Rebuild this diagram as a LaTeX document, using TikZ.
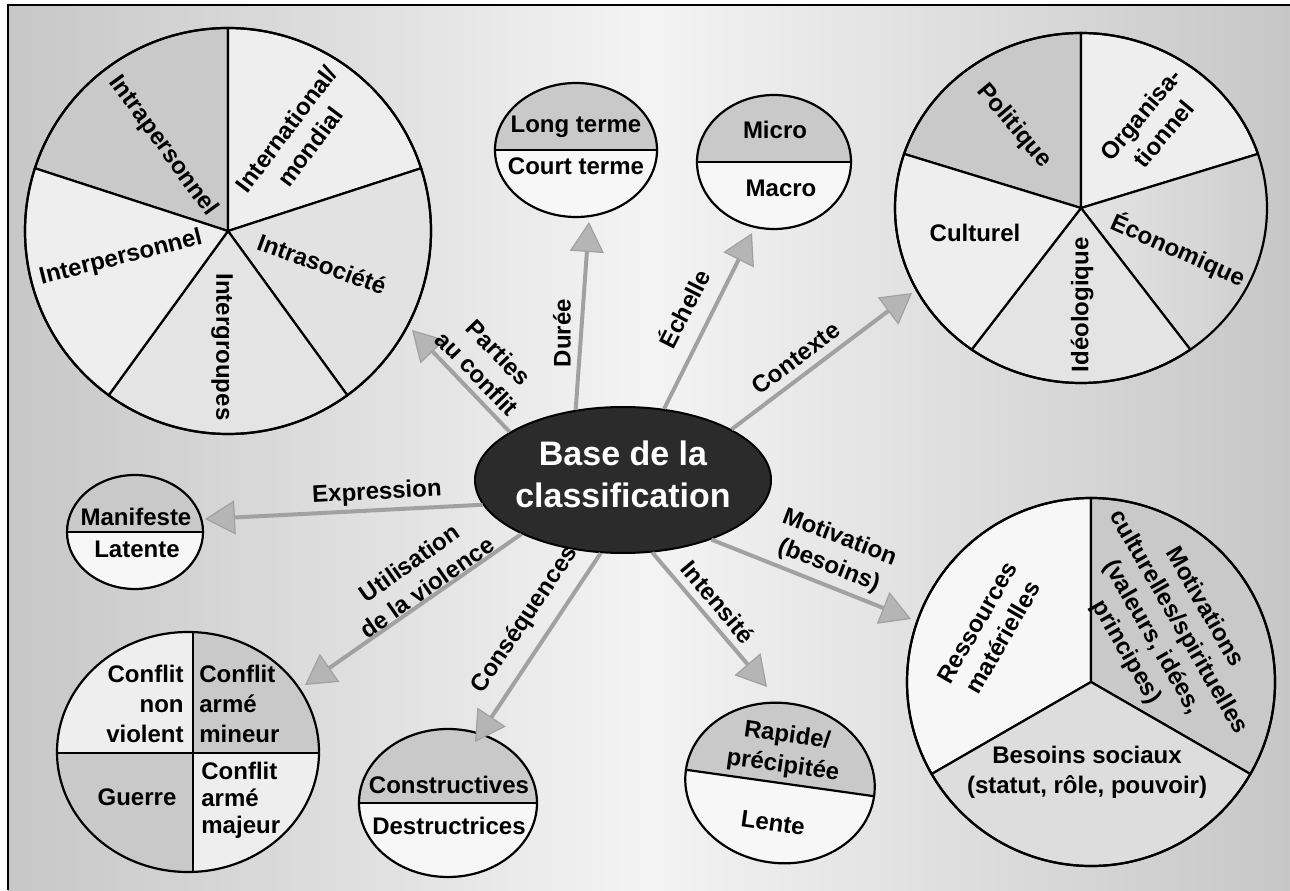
\documentclass[tikz,border=0pt]{standalone}
\usepackage{fontspec}
\setmainfont{Liberation Sans}
\usetikzlibrary{arrows.meta,shapes.geometric}

\definecolor{bgSide}{gray}{0.78}
\definecolor{bgMid}{gray}{0.955}
\definecolor{shadeDark}{gray}{0.79}
\definecolor{shadeMid}{gray}{0.895}
\definecolor{shadeLight}{gray}{0.935}
\definecolor{shadePale}{gray}{0.97}
\definecolor{linkGray}{gray}{0.63}
\definecolor{tipGray}{gray}{0.71}
\definecolor{coreGray}{gray}{0.17}

\tikzset{
  lbl/.style={font=\bfseries\fontsize{12}{15}\selectfont, inner sep=0pt, align=center},
  tight/.style={font=\bfseries\fontsize{12}{13.5}\selectfont},
  link/.style={draw=linkGray, line width=2pt,
    -{Triangle[length=15pt,width=17pt,fill=tipGray,line width=0.6pt]}},
  rim/.style={line width=1.1pt},
}

\begin{document}
\begin{tikzpicture}[x=0.5pt,y=0.5pt]
  \useasboundingbox (0,0) rectangle (1290,890);
  % background panel
  \shade[left color=bgSide, right color=bgSide, middle color=bgMid] (8,0) rectangle (1290,885);
  \draw[line width=0.9pt] (8,0) -- (8,885) -- (1290,885);

  % parties au conflit
  \begin{scope}[shift={(228,659)}]
    \filldraw[rim, fill=shadeDark] (0,0) -- (90:203) arc[start angle=90, end angle=162, radius=203] -- cycle;
    \filldraw[rim, fill=shadeLight] (0,0) -- (18:203) arc[start angle=18, end angle=90, radius=203] -- cycle;
    \filldraw[rim, fill=shadeLight!95!black] (0,0) -- (-54:203) arc[start angle=-54, end angle=18, radius=203] -- cycle;
    \filldraw[rim, fill=shadeMid] (0,0) -- (-126:203) arc[start angle=-126, end angle=-54, radius=203] -- cycle;
    \filldraw[rim, fill=shadeLight] (0,0) -- (162:203) arc[start angle=162, end angle=234, radius=203] -- cycle;
    \draw[rim] (0,0) circle[radius=203];
  \end{scope}
  \node[lbl, rotate=-54] (intra) at (163,744) {Intrapersonnel};
  \node[lbl, rotate=53] (inter) at (298,752) {International/\\mondial};
  \node[lbl, rotate=-20] (soc) at (322,626) {Intrasociété};
  \node[lbl, rotate=-90] (grp) at (222,543) {Intergroupes};
  \node[lbl, rotate=14] (pers) at (121,632) {Interpersonnel};

  % contexte
  \begin{scope}[shift={(1081,682)}]
    \filldraw[rim, fill=shadeDark] (0,0) -- (90:186 and 175) arc[start angle=90, end angle=162, x radius=186, y radius=175] -- cycle;
    \filldraw[rim, fill=shadeLight] (0,0) -- (18:186 and 175) arc[start angle=18, end angle=90, x radius=186, y radius=175] -- cycle;
    \shade[left color=shadeMid, right color=shadeDark!95!white] (0,0) -- (-54:186 and 175) arc[start angle=-54, end angle=18, x radius=186, y radius=175] -- cycle;
    \draw[rim] (0,0) -- (-54:186 and 175) (0,0) -- (18:186 and 175);
    \filldraw[rim, fill=shadeMid] (0,0) -- (-126:186 and 175) arc[start angle=-126, end angle=-54, x radius=186, y radius=175] -- cycle;
    \filldraw[rim, fill=shadeLight] (0,0) -- (162:186 and 175) arc[start angle=162, end angle=234, x radius=186, y radius=175] -- cycle;
    \draw[rim] (0,0) ellipse[x radius=186, y radius=175];
  \end{scope}
  \node[lbl, rotate=-50] (pol) at (1014,764) {Politique};
  \node[lbl, rotate=50] (org) at (1152,766) {Organisa-\\tionnel};
  \node[lbl, rotate=-24] (eco) at (1178,640) {Économique};
  \node[lbl, rotate=90] (ideo) at (1082,585) {Idéologique};
  \node[lbl] (cult) at (975,657) {Culturel};

  % motivation
  \begin{scope}[shift={(1091,208)}]
    \filldraw[rim, fill=shadePale] (0,0) -- (90:184) arc[start angle=90, end angle=210, radius=184] -- cycle;
    \filldraw[rim, fill=shadeDark] (0,0) -- (-30:184) arc[start angle=-30, end angle=90, radius=184] -- cycle;
    \filldraw[rim, fill=shadeMid!97!black] (0,0) -- (210:184) arc[start angle=210, end angle=330, radius=184] -- cycle;
    \draw[rim] (0,0) circle[radius=184];
  \end{scope}
  \node[lbl, rotate=60] (res) at (990,260) {Ressources\\matérielles};
  \node[lbl, rotate=-60] (cul) at (1165,260) {Motivations\\culturelles/spirituelles\\(valeurs, idées,\\principes)};
  \node[lbl] (soci) at (1087,118) {Besoins sociaux\\(statut, rôle, pouvoir)};

  % duree
  \fill[shadePale] (576,740) ellipse[x radius=81, y radius=67];
  \fill[shadeDark] (495,740) arc[start angle=180, end angle=0, x radius=81, y radius=67] -- cycle;
  \draw[rim] (495,740) -- (657,740);
  \draw[rim] (576,740) ellipse[x radius=81, y radius=67];
  \node[lbl] (long) at (576,763) {Long terme};
  \node[lbl] (court) at (576,724) {Court terme};

  % echelle
  \fill[shadePale] (774,728) ellipse[x radius=77, y radius=67];
  \fill[shadeDark] (697,728) arc[start angle=180, end angle=0, x radius=77, y radius=67] -- cycle;
  \draw[rim] (697,728) -- (851,728);
  \draw[rim] (774,728) ellipse[x radius=77, y radius=67];
  \node[lbl] (micro) at (775,760) {Micro};
  \node[lbl] (macro) at (781,702) {Macro};

  % expression
  \fill[shadePale] (135,358) ellipse[x radius=68, y radius=57];
  \fill[shadeDark] (67,358) arc[start angle=180, end angle=0, x radius=68, y radius=57] -- cycle;
  \draw[rim] (67,358) -- (203,358);
  \draw[rim] (135,358) ellipse[x radius=68, y radius=57];
  \node[lbl] (mani) at (136,373) {Manifeste};
  \node[lbl] (lat) at (137,341) {Latente};

  % violence
  \begin{scope}
    \clip (188,138) ellipse[x radius=131, y radius=120];
    \fill[shadeLight] (57,137) rectangle (193,258);
    \fill[shadeDark] (193,137) rectangle (319,258);
    \fill[shadeDark] (57,18) rectangle (193,137);
    \fill[shadeLight] (193,18) rectangle (319,137);
  \end{scope}
  \draw[rim] (193,18) -- (193,258);
  \draw[rim] (57,137) -- (319,137);
  \draw[rim] (188,138) ellipse[x radius=131, y radius=120];
  \node[lbl, align=right, anchor=east] (nonv) at (184,186) {Conflit\\non\\violent};
  \node[lbl, align=left, anchor=west] (mineur) at (199,186) {Conflit\\armé\\mineur};
  \node[lbl] (guerre) at (137,93) {Guerre};
  \node[lbl, tight, align=left, anchor=west] (majeur) at (201,90) {Conflit\\armé\\majeur};

  % consequences
  \fill[shadePale] (448,87) ellipse[x radius=89, y radius=74];
  \fill[shadeDark] (359,87) arc[start angle=180, end angle=0, x radius=89, y radius=74] -- cycle;
  \draw[rim] (359,87) -- (537,87);
  \draw[rim] (448,87) ellipse[x radius=89, y radius=74];
  \node[lbl] (cons) at (449,105) {Constructives};
  \node[lbl] (dest) at (449,64) {Destructrices};

  % intensite
  \begin{scope}[shift={(780,107)}, rotate=-8]
    \fill[shadePale] (0,0) ellipse[x radius=95, y radius=80];
    \fill[shadeDark] (-95,0) arc[start angle=180, end angle=0, x radius=95, y radius=80] -- cycle;
    \draw[rim] (-95,0) -- (95,0);
    \draw[rim] (0,0) ellipse[x radius=95, y radius=80];
  \end{scope}
  \node[lbl, rotate=-8] (rapide) at (785,139) {Rapide/\\précipitée};
  \node[lbl, rotate=-8] (lente) at (773,67) {Lente};

  % centre and links
  \node[ellipse, draw, line width=1pt, fill=coreGray, minimum width=148pt, minimum height=73pt, inner sep=0pt] (base) at (623,410) {};
  \node[font=\bfseries\fontsize{17}{21}\selectfont, text=white, align=center, inner sep=0pt] (baseText) at (623,416) {Base de la\\classification};

  \coordinate (tParties) at (412,560);
  \coordinate (tDuree) at (589,668);
  \coordinate (tEchelle) at (752,657);
  \coordinate (tContexte) at (912,597);
  \coordinate (tExpression) at (205,371);
  \coordinate (tViolence) at (305,205);
  \coordinate (tConseq) at (475,148);
  \coordinate (tIntens) at (767,203);
  \coordinate (tMotiv) at (911,271);

  \draw[link] (base.157) -- (tParties);
  \draw[link] (base.124) -- (tDuree);
  \draw[link] (base.60) -- (tEchelle);
  \draw[link] (base.25) -- (tContexte);
  \draw[link] (base.190) -- (tExpression);
  \draw[link] (base.208) -- (tViolence);
  \draw[link] (base.253) -- (tConseq);
  \draw[link] (base.292) -- (tIntens);
  \draw[link] (base.326) -- (tMotiv);

  \node[lbl, rotate=-46] (lParties) at (488,527) {Parties\\au conflit};
  \node[lbl, rotate=90] (lDuree) at (562,557) {Durée};
  \node[lbl, rotate=63] (lEchelle) at (683,582) {Échelle};
  \node[lbl, rotate=37] (lContexte) at (796,532) {Contexte};
  \node[lbl, rotate=3] (lExpression) at (377,397) {Expression};
  \node[lbl, rotate=35] (lViolence) at (418,315) {Utilisation\\de la violence};
  \node[lbl, rotate=56] (lConseq) at (525,270) {Conséquences};
  \node[lbl, rotate=-50] (lIntens) at (718,288) {Intensité};
  \node[lbl, rotate=-21] (lMotiv) at (834,338) {Motivation\\(besoins)};
\end{tikzpicture}
\end{document}
